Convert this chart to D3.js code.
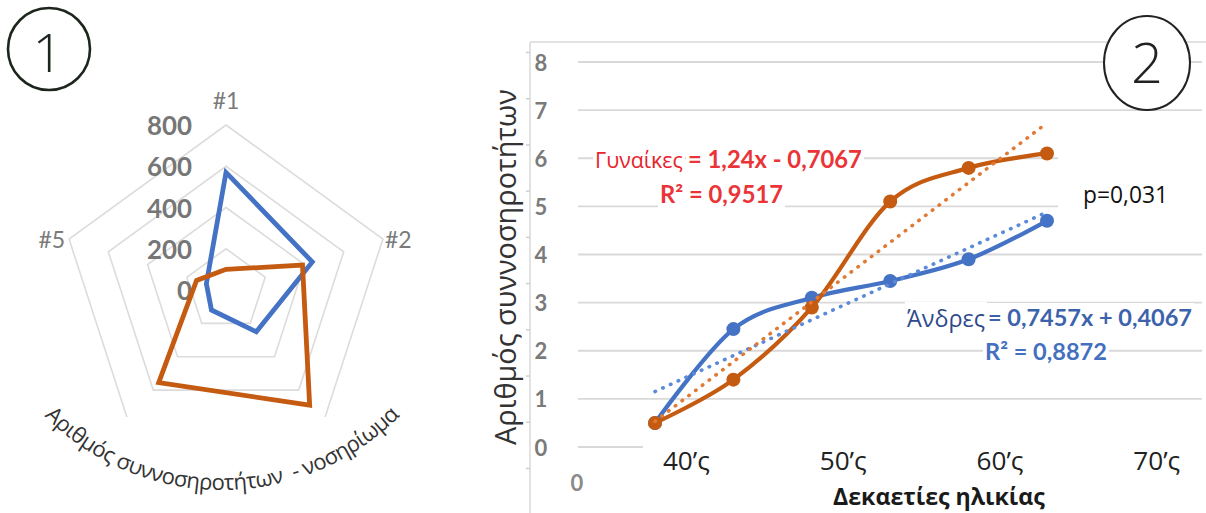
<!DOCTYPE html>
<html><head><meta charset="utf-8">
<script src="https://cdn.jsdelivr.net/npm/d3@7"></script>
<style>body{margin:0;background:#fff;} svg{display:block;}</style>
</head><body><svg id="c" width="1206" height="513"></svg>
<script>
// ---------- data: panel 1 (radar) ----------
const radarAxes = ["#1", "#2", "#3", "#4", "#5"];
const radarTicks = [0, 200, 400, 600, 800];
const radarMen = [570, 440, 250, 120, 100];
const radarWomen = [100, 390, 690, 555, 150];
const radarTitle = "Αριθμός συννοσηροτήτων\u00a0 - νοσηρίωμα";

// ---------- data: panel 2 (line chart) ----------
const decadeIndex = [1, 2, 3, 4, 5, 6];
const menValues = [0.5, 2.45, 3.1, 3.45, 3.9, 4.7];
const womenValues = [0.5, 1.4, 2.9, 5.1, 5.8, 6.1];
const trendSlopes = [0.7457, 1.24];        // men, women
const trendIntercepts = [0.4067, -0.7067]; // men, women
const yTicks = [0, 1, 2, 3, 4, 5, 6, 7, 8];
const xTickLabels = ["40’ς", "50’ς", "60’ς", "70’ς"];
const xTickValues = [1.4, 3.4, 5.4, 7.4];
const borderTickValues = [0, 1, 2, 3, 4, 5, 6, 7, 8, 9];
const secondaryLabels = ["0"];
const yTitle = "Αριθμός συννοσηροτήτων";
const xTitle = "Δεκαετίες ηλικίας";

const BLUE = "#4472C4", ORANGE = "#C55A11";
const svg = d3.select("#c");
const defs = svg.append("defs");

function fitText(sel, width) {
  const l = sel.node().getComputedTextLength();
  const fs = parseFloat(sel.attr("font-size"));
  sel.attr("font-size", fs * width / l);
  return fs * width / l;
}

// ================= Panel 1 : radar =================
const cx = 226, cy = 290, clipY = 417;
const rScale = d3.scaleLinear().domain([0, 800]).range([0, 165]);
const angle = i => i * 2 * Math.PI / radarAxes.length;

defs.append("clipPath").attr("id", "radarClip")
  .append("rect").attr("x", -cx).attr("y", -cy).attr("width", 470).attr("height", clipY);

const radar = svg.append("g").attr("transform", `translate(${cx},${cy})`);
const radarGrid = radar.append("g").attr("clip-path", "url(#radarClip)");
const ring = d3.lineRadial().angle((d, i) => angle(i)).radius(d => rScale(d)).curve(d3.curveLinearClosed);

radarGrid.selectAll("path.ring").data(radarTicks.filter(t => t > 0)).join("path")
  .attr("class", "ring")
  .attr("d", t => ring(radarAxes.map(() => t)))
  .attr("fill", "none").attr("stroke", "#dcdcdc").attr("stroke-width", 1.6);

// category labels (the lower two are hidden behind the title box in the original)
const axisLabelPos = radarAxes.map((d, i) => {
  const a = angle(i), s = Math.sin(a), c = Math.cos(a), r = rScale(800);
  const x = r * s, y = -r * c;
  if (Math.abs(s) < 0.1) return { d, x, y: y - 25, anchor: "middle" };
  if (s > 0) return { d, x: x + 2, y: y, anchor: "start" };
  return { d, x: x - 4, y: y, anchor: "end" };
}).filter(p => p.y + cy < clipY - 20);

radar.selectAll("text.axl").data(axisLabelPos).join("text")
  .attr("class", "axl")
  .attr("x", p => p.x).attr("y", p => p.y).attr("text-anchor", p => p.anchor)
  .attr("dominant-baseline", "central")
  .attr("font-family", "Lato, 'Open Sans', sans-serif").attr("font-size", 23)
  .attr("fill", "#7a7a7a").text(p => p.d);

const tks = radar.selectAll("text.tk").data(radarTicks).join("text")
  .attr("class", "tk")
  .attr("x", -34).attr("y", t => -rScale(t))
  .attr("text-anchor", "end").attr("dominant-baseline", "central")
  .attr("font-family", "Lato, sans-serif").attr("font-weight", "bold").attr("font-size", 24)
  .attr("fill", "#767676").text(t => t);
const tkfs = fitText(d3.select(tks.nodes()[4]), 45);
tks.attr("font-size", tkfs);

[[radarMen, BLUE], [radarWomen, ORANGE]].forEach(([vals, col]) => {
  radar.append("path").attr("d", ring(vals))
    .attr("fill", "none").attr("stroke", col).attr("stroke-width", 4.8)
    .attr("stroke-linejoin", "miter");
});

// curved title
const acx = 222, acy = 240, aR = 250, th = 85 * Math.PI / 180;
defs.append("path").attr("id", "arcPath")
  .attr("d", `M${acx - aR * Math.sin(th)},${acy + aR * Math.cos(th)} A${aR},${aR} 0 0 0 ${acx + aR * Math.sin(th)},${acy + aR * Math.cos(th)}`);
svg.append("text").attr("font-family", "'Open Sans', sans-serif").attr("font-size", 22)
  .attr("letter-spacing", -0.5).attr("fill", "#333")
  .append("textPath").attr("href", "#arcPath").attr("startOffset", "50%")
  .attr("text-anchor", "middle").text(radarTitle);

// number circle 1
svg.append("circle").attr("cx", 49).attr("cy", 49).attr("r", 41)
  .attr("fill", "none").attr("stroke", "#1c261c").attr("stroke-width", 2.6);
svg.append("text").attr("x", 48).attr("y", 72).attr("text-anchor", "middle")
  .attr("font-family", "'Open Sans', sans-serif").attr("font-weight", 300).attr("font-size", 54)
  .attr("fill", "#1c261c").text("1");

// ================= Panel 2 : line chart =================
const x = d3.scaleLinear().domain([1, 6]).range([655, 1047]);
const y = d3.scaleLinear().domain([0, 8]).range([447, 62]);

// chart border
svg.append("line").attr("x1", 530).attr("x2", 1206).attr("y1", 42).attr("y2", 42).attr("stroke", "#d9d9d9").attr("stroke-width", 1.5);
svg.append("line").attr("x1", 530).attr("x2", 530).attr("y1", 42).attr("y2", 513).attr("stroke", "#d9d9d9").attr("stroke-width", 1.5);
const borderScale = d3.scaleLinear().domain([0, 9]).range([468, 52]);
const bAx = svg.append("g").attr("transform", "translate(530,0)")
  .call(d3.axisLeft(borderScale).tickValues(borderTickValues).tickSize(4).tickFormat(""));
bAx.select(".domain").remove();
bAx.selectAll("line").attr("stroke", "#cfcfcf").attr("stroke-width", 1.5);

// gridlines
svg.append("g").selectAll("line").data(yTicks).join("line")
  .attr("x1", 578).attr("x2", 1202).attr("y1", d => y(d)).attr("y2", d => y(d))
  .attr("stroke", "#d9d9d9").attr("stroke-width", 1.8);

// y tick labels
svg.append("g").selectAll("text").data(yTicks).join("text")
  .attr("x", 541).attr("y", d => y(d)).attr("text-anchor", "middle").attr("dominant-baseline", "central")
  .attr("font-family", "Lato, sans-serif").attr("font-weight", "bold").attr("font-size", 22)
  .attr("fill", "#7a7a7a").text(d => d);
svg.append("g").selectAll("text").data(secondaryLabels).join("text")
  .attr("x", 577).attr("y", 482).attr("text-anchor", "middle").attr("dominant-baseline", "central")
  .attr("font-family", "Lato, sans-serif").attr("font-weight", "bold").attr("font-size", 22)
  .attr("fill", "#8a8a8a").text(d => d);

// white box behind x labels
svg.append("rect").attr("x", 643).attr("y", 436).attr("width", 563).attr("height", 42).attr("fill", "#fff");
// white box around p-value
svg.append("rect").attr("x", 1058).attr("y", 128).attr("width", 148).attr("height", 108).attr("fill", "#fff");

// series lines
const lineGen = d3.line().x((d, i) => x(decadeIndex[i])).y(d => y(d)).curve(d3.curveCardinal);
[[menValues, BLUE], [womenValues, ORANGE]].forEach(([vals, col]) => {
  const g = svg.append("g");
  g.append("path").attr("d", lineGen(vals)).attr("fill", "none").attr("stroke", col).attr("stroke-width", 4.2);
  g.selectAll("circle").data(vals).join("circle")
    .attr("cx", (d, i) => x(decadeIndex[i])).attr("cy", d => y(d)).attr("r", 7).attr("fill", col);
});

// trendlines
const trendCols = ["#5A8AD8", "#E07A35"];
trendSlopes.forEach((m, k) => {
  const b = trendIntercepts[k];
  const x0 = d3.min(decadeIndex), x1 = d3.max(decadeIndex);
  svg.append("line").attr("x1", x(x0)).attr("y1", y(m * x0 + b)).attr("x2", x(x1)).attr("y2", y(m * x1 + b))
    .attr("stroke", trendCols[k]).attr("stroke-width", 3.6).attr("stroke-linecap", "round")
    .attr("stroke-dasharray", "0.5 8");
});

// annotations (with white background)
const bgLayer = svg.append("g");
const txLayer = svg.append("g");
function label(str, x0, yb, width, opts) {
  const t = txLayer.append("text").attr("x", x0).attr("y", yb)
    .attr("font-family", opts.family).attr("font-weight", opts.weight || "normal")
    .attr("font-size", 20).attr("fill", opts.fill).text(str);
  fitText(t, width);
  if (opts.bg) {
    const bb = t.node().getBBox();
    bgLayer.append("rect").attr("x", bb.x - 2).attr("y", bb.y).attr("width", bb.width + 4).attr("height", bb.height).attr("fill", "#fff");
  }
  return t;
}
label("Γυναίκες", 595, 168, 88, { family: "'Open Sans', sans-serif", fill: "#E8232B", bg: true });
label("= 1,24x - 0,7067", 688, 168, 174, { family: "Lato, sans-serif", weight: "bold", fill: "#EA3438", bg: true });
label("R² = 0,9517", 660, 203, 123, { family: "Lato, sans-serif", weight: "bold", fill: "#EA3438", bg: true });
label("Άνδρες", 907, 327, 78, { family: "'Open Sans', sans-serif", fill: "#2E4A8C", bg: true });
label("= 0,7457x + 0,4067", 988, 326, 204, { family: "Lato, sans-serif", weight: "bold", fill: "#3D62AC", bg: true });
label("R² = 0,8872", 985, 360, 122, { family: "Lato, sans-serif", weight: "bold", fill: "#4470BF", bg: true });
label("p=0,031", 1083, 203, 85, { family: "'Open Sans', sans-serif", fill: "#111" });

// x tick labels
const xl = svg.append("g").selectAll("text").data(xTickLabels).join("text")
  .attr("x", (d, i) => x(xTickValues[i])).attr("y", 470).attr("text-anchor", "middle")
  .attr("font-family", "'Open Sans', sans-serif").attr("font-size", 26).attr("fill", "#222").text(d => d);
const xfs = fitText(d3.select(xl.nodes()[0]), 47);
xl.attr("font-size", xfs);

// axis titles
const xt = svg.append("text").attr("x", 833).attr("y", 505)
  .attr("font-family", "'Open Sans', sans-serif").attr("font-weight", "bold").attr("font-size", 22)
  .attr("fill", "#1a1a1a").text(xTitle);
fitText(xt, 212);
const yt = svg.append("text").attr("transform", "translate(516,267) rotate(-90)").attr("text-anchor", "middle")
  .attr("font-family", "'Open Sans', sans-serif").attr("font-size", 26).attr("fill", "#333").text(yTitle);
fitText(yt, 356);

// number circle 2
svg.append("ellipse").attr("cx", 1147).attr("cy", 63).attr("rx", 43).attr("ry", 47)
  .attr("fill", "#fff").attr("stroke", "#222").attr("stroke-width", 2);
svg.append("text").attr("x", 1147).attr("y", 83).attr("text-anchor", "middle")
  .attr("font-family", "'Open Sans', sans-serif").attr("font-weight", 300).attr("font-size", 56)
  .attr("fill", "#222").text("2");
</script></body></html>
